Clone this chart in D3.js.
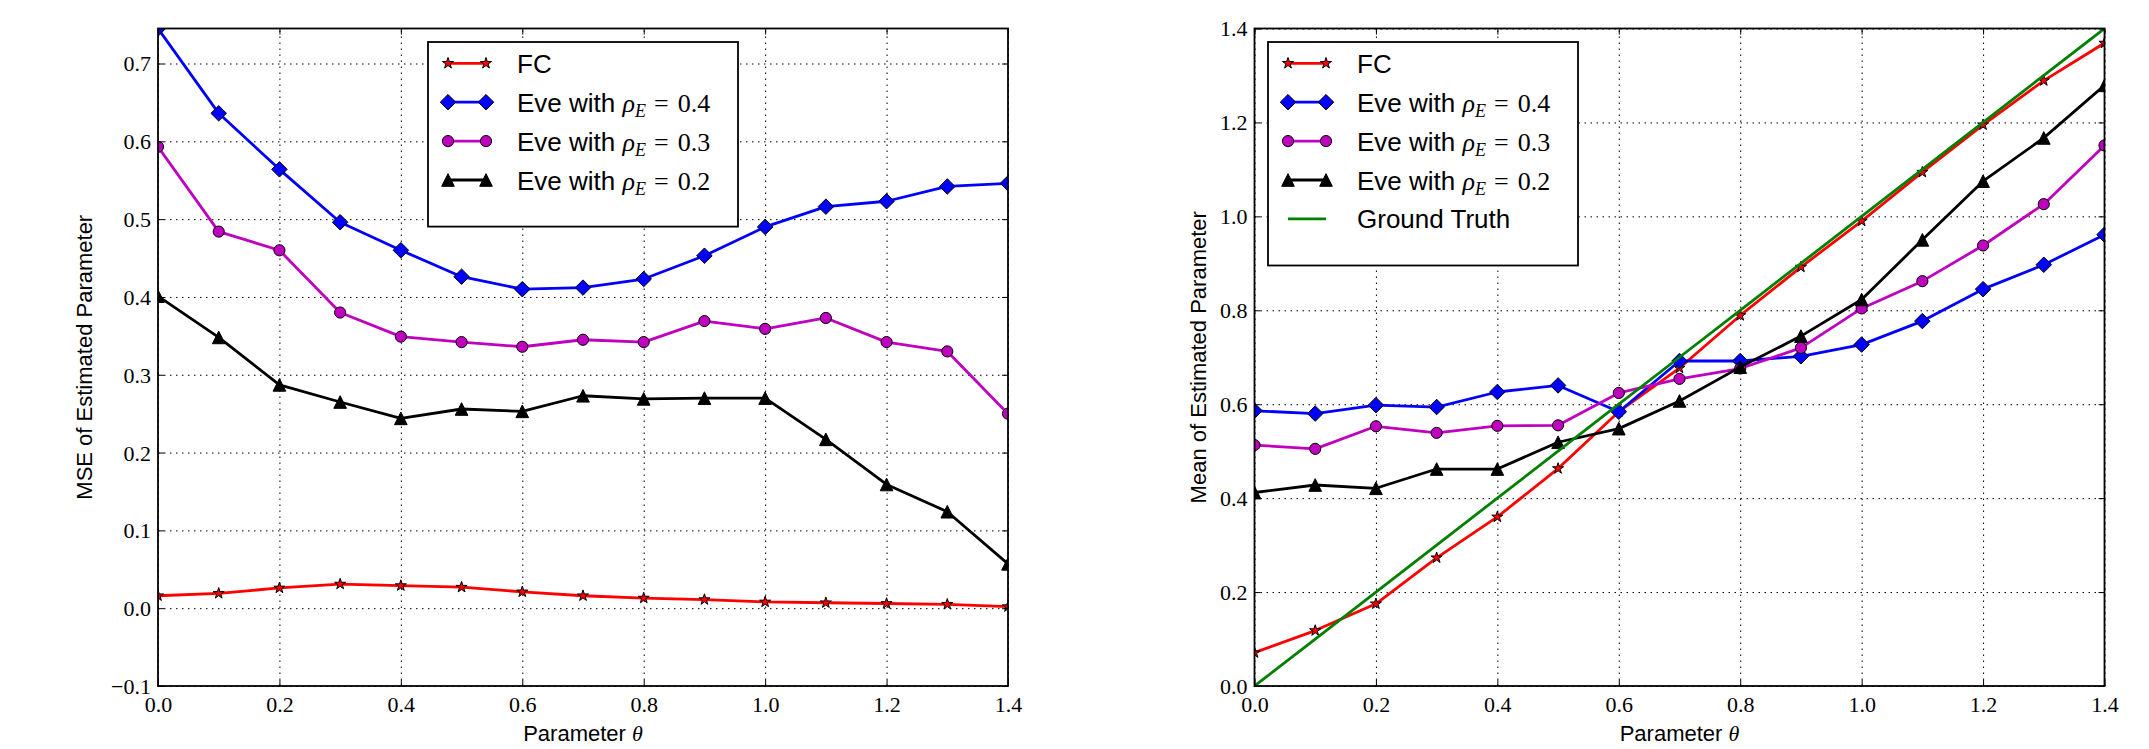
<!DOCTYPE html>
<html>
<head>
<meta charset="utf-8">
<script src="https://cdn.jsdelivr.net/npm/d3@7"></script>
<style>
  body { margin: 0; background: #fff; }
  .tick text { font-family: "Liberation Serif", serif; font-size: 22px; fill: #000; }
  .axis-title { font-family: "Liberation Sans", Arial, sans-serif; font-size: 22px; fill: #000; }
  .legend-text { font-family: "Liberation Sans", Arial, sans-serif; font-size: 26px; fill: #000; }
</style>
</head>
<body>
<div id="chart"></div>
<script>
// Data
const thetas = [0.0, 0.1, 0.2, 0.3, 0.4, 0.5, 0.6, 0.7, 0.8, 0.9, 1.0, 1.1, 1.2, 1.3, 1.4];

// Left panel: MSE of estimated parameter
const mseFC    = [0.016, 0.019, 0.026, 0.031, 0.029, 0.027, 0.021, 0.016, 0.013, 0.011, 0.008, 0.007, 0.006, 0.005, 0.002];
const mseEve04 = [0.745, 0.636, 0.564, 0.496, 0.460, 0.426, 0.410, 0.412, 0.423, 0.453, 0.490, 0.516, 0.523, 0.542, 0.546];
const mseEve03 = [0.593, 0.484, 0.460, 0.380, 0.349, 0.342, 0.336, 0.345, 0.342, 0.369, 0.359, 0.373, 0.342, 0.330, 0.250];
const mseEve02 = [0.401, 0.348, 0.287, 0.265, 0.244, 0.256, 0.253, 0.273, 0.269, 0.270, 0.270, 0.217, 0.159, 0.124, 0.057];

// Right panel: mean of estimated parameter
const meanFC    = [0.071, 0.118, 0.175, 0.273, 0.360, 0.463, 0.584, 0.677, 0.789, 0.892, 0.990, 1.094, 1.195, 1.289, 1.369];
const meanEve04 = [0.586, 0.580, 0.598, 0.594, 0.626, 0.640, 0.584, 0.692, 0.692, 0.702, 0.727, 0.777, 0.845, 0.897, 0.961];
const meanEve03 = [0.513, 0.505, 0.553, 0.539, 0.554, 0.555, 0.624, 0.654, 0.676, 0.720, 0.804, 0.862, 0.938, 1.026, 1.151];
const meanEve02 = [0.412, 0.428, 0.421, 0.462, 0.462, 0.519, 0.548, 0.607, 0.679, 0.745, 0.823, 0.950, 1.075, 1.167, 1.279];
const groundTruth = [0.0, 0.1, 0.2, 0.3, 0.4, 0.5, 0.6, 0.7, 0.8, 0.9, 1.0, 1.1, 1.2, 1.3, 1.4];

// Tick values
const xTicks = [0.0, 0.2, 0.4, 0.6, 0.8, 1.0, 1.2, 1.4];
const mseTicks = [-0.1, 0.0, 0.1, 0.2, 0.3, 0.4, 0.5, 0.6, 0.7];
const meanTicks = [0.0, 0.2, 0.4, 0.6, 0.8, 1.0, 1.2, 1.4];

// Legend labels
const rhoValues = ["0.4", "0.3", "0.2"];
const fcLabel = "FC";
const truthLabel = "Ground Truth";

// Figure size
const figW = 2149, figH = 749;
const plotTop = 28.5, plotH = 657.5, plotW = 850;

const svg = d3.select("#chart")
    .append("svg")
    .attr("width", figW)
    .attr("height", figH);

// Marker shapes shaped like matplotlib's
const diamond = {
    draw(ctx, size) {
        const r = Math.sqrt(size) / 2;
        ctx.moveTo(0, -r); ctx.lineTo(r, 0); ctx.lineTo(0, r); ctx.lineTo(-r, 0); ctx.closePath();
    }
};
const triangle = {
    draw(ctx, size) {
        const r = Math.sqrt(size) / 2;
        ctx.moveTo(0, -r); ctx.lineTo(r, r); ctx.lineTo(-r, r); ctx.closePath();
    }
};

const styles = {
    fc:    { color: "#ff0000", type: d3.symbolStar, size: 38 },
    eve04: { color: "#0000ff", type: diamond, size: 240 },
    eve03: { color: "#bf00bf", type: d3.symbolCircle, size: 98 },
    eve02: { color: "#000000", type: triangle, size: 160 },
    truth: { color: "#008000", type: null }
};

function drawPanel(opts) {
    const g = svg.append("g")
        .attr("transform", `translate(${opts.left},${plotTop})`);

    const x = d3.scaleLinear().domain([0, 1.4]).range([0, plotW]);
    const y = d3.scaleLinear().domain(opts.yDomain).range([plotH, 0]);

    // Grid
    g.append("g")
        .attr("transform", `translate(0,${plotH})`)
        .call(d3.axisBottom(x).tickValues(xTicks).tickSize(-plotH).tickFormat(""))
        .call(a => a.select(".domain").remove())
        .selectAll("line")
        .attr("stroke", "#000")
        .attr("stroke-width", 1)
        .attr("stroke-dasharray", "1.5,4.5");
    g.append("g")
        .call(d3.axisLeft(y).tickValues(opts.yTicks).tickSize(-plotW).tickFormat(""))
        .call(a => a.select(".domain").remove())
        .selectAll("line")
        .attr("stroke", "#000")
        .attr("stroke-width", 1)
        .attr("stroke-dasharray", "1.5,4.5");

    // Clip to plot area, like matplotlib
    const clipId = "clip-" + opts.id;
    g.append("clipPath").attr("id", clipId)
        .append("rect").attr("width", plotW).attr("height", plotH);

    const plot = g.append("g").attr("clip-path", `url(#${clipId})`);

    const line = d3.line()
        .x(d => x(d[0]))
        .y(d => y(d[1]));

    opts.series.forEach(s => {
        const st = styles[s.key];
        const pts = thetas.map((t, i) => [t, s.values[i]]);
        const sg = plot.append("g");
        sg.append("path")
            .datum(pts)
            .attr("fill", "none")
            .attr("stroke", st.color)
            .attr("stroke-width", 2.8)
            .attr("stroke-linejoin", "round")
            .attr("d", line);
        if (st.type) {
            sg.selectAll(".marker")
                .data(pts)
                .enter()
                .append("path")
                .attr("class", "marker")
                .attr("transform", d => `translate(${x(d[0])},${y(d[1])})`)
                .attr("d", d3.symbol().type(st.type).size(st.size))
                .attr("fill", st.color)
                .attr("stroke", "#000")
                .attr("stroke-width", 1);
        }
    });

    // Axes with inward ticks
    const xAxis = g.append("g")
        .attr("transform", `translate(0,${plotH})`)
        .call(d3.axisBottom(x).tickValues(xTicks).tickSize(-6).tickFormat(d3.format(".1f")));
    xAxis.select(".domain").remove();
    xAxis.selectAll(".tick text").attr("y", 26).attr("dy", null);

    g.append("g")
        .call(d3.axisTop(x).tickValues(xTicks).tickSize(-6).tickFormat(""))
        .select(".domain").remove();

    const yAxis = g.append("g")
        .call(d3.axisLeft(y).tickValues(opts.yTicks).tickSize(-6).tickPadding(7).tickFormat(d3.format(".1f")));
    yAxis.select(".domain").remove();
    yAxis.selectAll(".tick text").attr("dy", "0.34em");

    g.append("g")
        .attr("transform", `translate(${plotW},0)`)
        .call(d3.axisRight(y).tickValues(opts.yTicks).tickSize(-6).tickFormat(""))
        .select(".domain").remove();

    g.selectAll(".tick line").filter(function() {
        return !this.getAttribute("stroke-dasharray");
    }).attr("stroke", "#000").attr("stroke-width", 1);

    // Frame
    g.append("rect")
        .attr("width", plotW)
        .attr("height", plotH)
        .attr("fill", "none")
        .attr("stroke", "#000")
        .attr("stroke-width", 1.8);

    // Axis titles
    const xt = g.append("text")
        .attr("class", "axis-title")
        .attr("x", plotW / 2)
        .attr("y", 741 - plotTop)
        .attr("text-anchor", "middle");
    xt.append("tspan").text("Parameter ");
    xt.append("tspan")
        .style("font-family", "'Liberation Serif', serif")
        .style("font-style", "italic")
        .text("θ");

    g.append("text")
        .attr("class", "axis-title")
        .attr("transform", `translate(${opts.yTitleX - opts.left},${plotH / 2}) rotate(-90)`)
        .attr("text-anchor", "middle")
        .text(opts.yTitle);

    // Legend
    const lg = g.append("g")
        .attr("transform", `translate(${opts.legendX - opts.left},${42 - plotTop})`);
    const rowH = 38.9;
    lg.append("rect")
        .attr("width", 310)
        .attr("height", 21 + rowH * opts.legend.length + 8)
        .attr("fill", "#fff")
        .attr("stroke", "#000")
        .attr("stroke-width", 1.8);

    opts.legend.forEach((item, i) => {
        const st = styles[item.key];
        const cy = 21.3 + i * rowH;
        const row = lg.append("g");
        row.append("line")
            .attr("x1", 20).attr("x2", 58)
            .attr("y1", cy).attr("y2", cy)
            .attr("stroke", st.color)
            .attr("stroke-width", 2.8);
        if (st.type) {
            row.selectAll(".lm")
                .data([20, 58])
                .enter()
                .append("path")
                .attr("transform", d => `translate(${d},${cy})`)
                .attr("d", d3.symbol().type(st.type).size(st.size))
                .attr("fill", st.color)
                .attr("stroke", "#000")
                .attr("stroke-width", 1);
        }
        const t = row.append("text")
            .attr("class", "legend-text")
            .attr("x", 89)
            .attr("y", cy + 9.5);
        if (item.rho) {
            t.append("tspan").text("Eve with ");
            t.append("tspan")
                .style("font-family", "'Liberation Serif', serif")
                .style("font-style", "italic")
                .text("ρ");
            t.append("tspan")
                .style("font-family", "'Liberation Serif', serif")
                .style("font-style", "italic")
                .style("font-size", "18px")
                .attr("dy", 5)
                .text("E");
            t.append("tspan")
                .style("font-family", "'Liberation Serif', serif")
                .attr("dy", -5)
                .attr("dx", 8)
                .text("=");
            t.append("tspan")
                .style("font-family", "'Liberation Serif', serif")
                .attr("dx", 9)
                .text(item.rho);
        } else {
            t.text(item.label);
        }
    });
}

drawPanel({
    id: "mse",
    left: 158,
    yDomain: [-0.1, 0.745],
    yTicks: mseTicks,
    yTitle: "MSE of Estimated Parameter",
    yTitleX: 91.5,
    legendX: 428,
    series: [
        { key: "fc", values: mseFC },
        { key: "eve04", values: mseEve04 },
        { key: "eve03", values: mseEve03 },
        { key: "eve02", values: mseEve02 }
    ],
    legend: [
        { key: "fc", label: fcLabel },
        { key: "eve04", rho: rhoValues[0] },
        { key: "eve03", rho: rhoValues[1] },
        { key: "eve02", rho: rhoValues[2] }
    ]
});

drawPanel({
    id: "mean",
    left: 1254.5,
    yDomain: [0, 1.4],
    yTicks: meanTicks,
    yTitle: "Mean of Estimated Parameter",
    yTitleX: 1205.5,
    legendX: 1268,
    series: [
        { key: "fc", values: meanFC },
        { key: "eve04", values: meanEve04 },
        { key: "eve03", values: meanEve03 },
        { key: "eve02", values: meanEve02 },
        { key: "truth", values: groundTruth }
    ],
    legend: [
        { key: "fc", label: fcLabel },
        { key: "eve04", rho: rhoValues[0] },
        { key: "eve03", rho: rhoValues[1] },
        { key: "eve02", rho: rhoValues[2] },
        { key: "truth", label: truthLabel }
    ]
});
</script>
</body>
</html>
